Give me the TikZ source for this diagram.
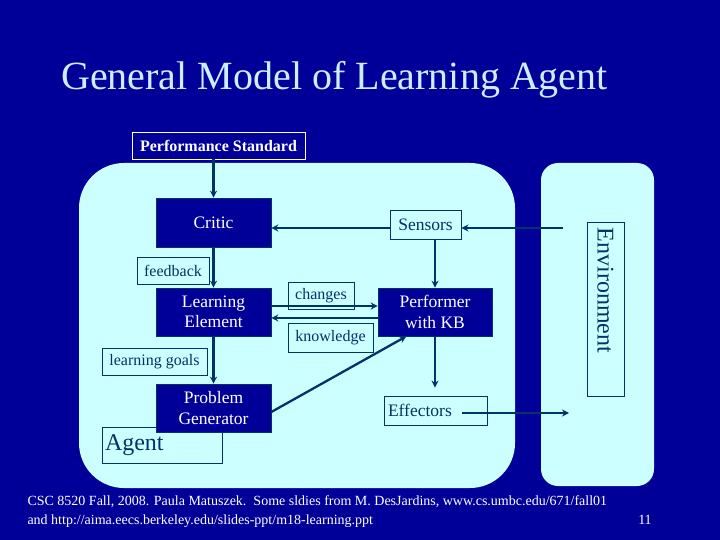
\documentclass[tikz,border=0pt]{standalone}
\usepackage{fontspec}
\setmainfont{Liberation Serif}
\usetikzlibrary{arrows.meta,calc}
\definecolor{navy}{RGB}{0,0,153}
\definecolor{panel}{RGB}{204,255,255}
\definecolor{dark}{RGB}{0,51,102}
\definecolor{titlec}{RGB}{204,238,255}
\tikzset{
  navybox/.style={fill=navy,draw=dark,line width=0.6pt,text=white,align=center,inner sep=0pt,
    font=\fontsize{17.5}{20.5}\selectfont},
  lbl/.style={draw=dark,line width=0.9pt,text=dark,inner sep=0pt,font=\fontsize{16}{18}\selectfont},
  conn/.style={draw=dark,line width=2.3pt,-{Stealth[length=7pt,width=7pt]}},
}
\begin{document}
\begin{tikzpicture}[x=1pt,y=-1pt]
\useasboundingbox (0,0) rectangle (720,540);
\fill[navy] (0,0) rectangle (720,540);
% title
\node[text=titlec,font=\fontsize{40}{44}\selectfont,anchor=base] (title) at (334.5,90) {General Model of Learning Agent};
% panels
\fill[panel,rounded corners=45pt] (79,163) rectangle (515,488);
\fill[panel,rounded corners=17pt] (541,163) rectangle (654,486);
% performance standard
\node[draw=white,line width=0.9pt,text=white,inner sep=0pt,minimum width=173,minimum height=27,
  font=\bfseries\fontsize{16}{18}\selectfont] (ps) at (218.5,145.5) {Performance Standard};
% environment
\node[draw=dark,line width=0.9pt,text=dark,rotate=-90,minimum width=174,minimum height=37,inner sep=0pt,
  text width=162,align=left,font=\fontsize{24}{26}\selectfont] (env) at (605.5,309) {Environment};
% agent
\node[lbl,minimum width=120,minimum height=36,text width=114,align=left,font=\fontsize{24}{26}\selectfont] (agent) at (162,445) {Agent};
% main boxes
\node[navybox,minimum width=115,minimum height=49] (critic) at (213.5,222.5) {Critic};
\node[navybox,minimum width=115,minimum height=48] (le) at (213.5,312) {Learning\\Element};
\node[navybox,minimum width=115,minimum height=48] (pg) at (213.5,408) {Problem\\Generator};
\node[navybox,minimum width=114,minimum height=48] (perf) at (435,312) {Performer\\with KB};
\node[lbl,minimum width=71,minimum height=29,font=\fontsize{17.5}{19}\selectfont] (sens) at (425.5,224.5) {Sensors};
\node[lbl,minimum width=103,minimum height=29,text width=95,align=left,font=\fontsize{17.5}{19}\selectfont] (eff) at (435.5,410.5) {Effectors};
% labels
\node[lbl,minimum width=72,minimum height=27] (fb) at (173,270.5) {feedback};
\node[lbl,minimum width=66,minimum height=27] (ch) at (321,295.5) {changes};
\node[lbl,minimum width=85,minimum height=29] (kn) at (330.5,337.5) {knowledge};
\node[lbl,minimum width=105,minimum height=27] (lg) at (154.5,361.5) {learning goals};
% coordinates
\coordinate (envS) at (563,228);
\coordinate (envE) at (569,413);
\coordinate (effout) at (462,413);
% connectors
\draw[conn] (ps.south -| critic.north) -- (critic.north);
\draw[conn] (critic.south) -- (le.north);
\draw[conn] (le.south) -- (pg.north);
\draw[conn] (envS) -- (envS -| sens.east);
\draw[conn] (sens.west |- envS) -- (envS -| critic.east);
\draw[conn] (sens.south -| perf.north) -- (perf.north);
\draw[conn] ([yshift=6pt]le.east) -- ([yshift=6pt]le.east -| perf.west);
\draw[conn] ([yshift=-6pt]perf.west) -- ([yshift=-6pt]perf.west -| le.east);
\draw[conn] ([yshift=-4pt]pg.east) -- ($(perf.south west)!0.25!(perf.south east)$);
\draw[conn] (perf.south) -- ([yshift=8pt]eff.north -| perf.south);
\draw[conn] (effout) -- (envE);
% footer
\node[text=white,anchor=base west,font=\fontsize{14}{19}\selectfont] (foot) at (24,505)
  {CSC 8520 Fall, 2008. Paula Matuszek.\ \ Some sldies from M. DesJardins, www.cs.umbc.edu/671/fall01};
\node[text=white,anchor=base west,font=\fontsize{14}{19}\selectfont] (foot2) at (24,524)
  {and http://aima.eecs.berkeley.edu/slides-ppt/m18-learning.ppt};
\node[text=white,anchor=base,font=\fontsize{14}{19}\selectfont] (pg11) at (645,524) {11};
\end{tikzpicture}
\end{document}
